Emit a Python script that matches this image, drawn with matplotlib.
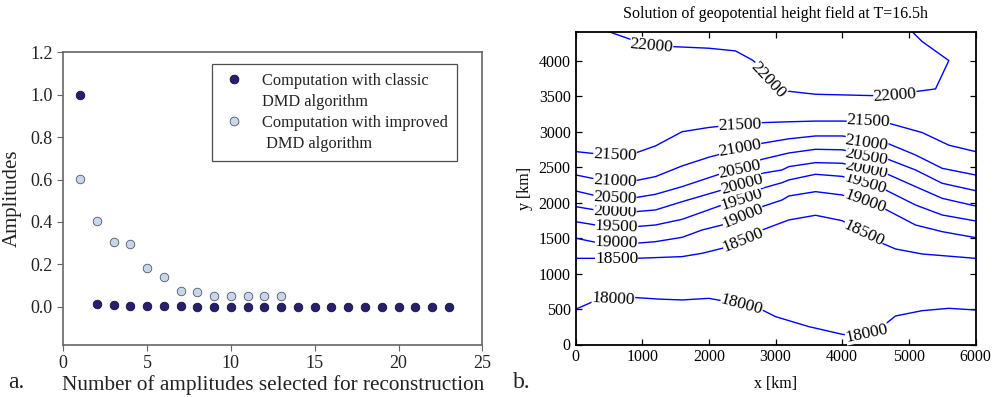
import matplotlib
matplotlib.use("Agg")
import matplotlib.pyplot as plt
from matplotlib.lines import Line2D
import numpy as np

plt.rcParams['font.family'] = ['Liberation Serif', 'DejaVu Serif']
plt.rcParams['mathtext.fontset'] = 'stix'

# ---------------- data: panel a ----------------
n_classic = list(range(1, 24))
amp_classic = [1.0, 0.011, 0.008, 0.006, 0.006, 0.006, 0.002, 0.001, 0.001, 0.001,
               0.001, 0.001, 0.001, 0.0, 0.0, 0.0, 0.0, 0.0, 0.0, 0.0, 0.0, 0.0, 0.0]
n_improved = list(range(1, 14))
amp_improved = [0.602, 0.404, 0.307, 0.294, 0.182, 0.142, 0.075, 0.069, 0.050, 0.050,
                0.050, 0.050, 0.050]

# ---------------- data: panel b (contour lines) ----------------
levels = [18000, 18500, 19000, 19500, 20000, 20500, 21000, 21500, 22000]
c18000_x = [0, 350, 850, 1250, 1600, 2000, 2300, 2800, 3000, 3500, 4000, 4100, 4600, 4800, 5200, 5600, 6000]
c18000_y = [496, 640, 665, 640, 628, 651, 600, 487, 393, 252, 144, 134, 252, 402, 477, 510, 487]
c18500_x = [0, 300, 900, 1200, 1600, 1900, 2200, 2800, 3200, 3600, 4000, 4600, 4800, 5200, 6000]
c18500_y = [1215, 1215, 1215, 1225, 1239, 1286, 1356, 1615, 1756, 1822, 1746, 1427, 1347, 1276, 1215]
c19000_x = [0, 300, 900, 1200, 1600, 1900, 2200, 2800, 3100, 3200, 3600, 4000, 4650, 5100, 5500, 6000]
c19000_y = [1500, 1441, 1427, 1450, 1511, 1615, 1685, 1944, 2038, 2094, 2155, 2108, 1906, 1685, 1591, 1507]
c19500_x = [0, 300, 900, 1200, 1600, 2200, 2800, 3100, 3200, 3600, 4000, 4650, 5100, 5500, 6000]
c19500_y = [1732, 1685, 1662, 1685, 1765, 1967, 2202, 2282, 2320, 2400, 2370, 2179, 1967, 1826, 1742]
c20000_x = [0, 300, 900, 1200, 1600, 2200, 2800, 3100, 3200, 3600, 4000, 4650, 5100, 5500, 6000]
c20000_y = [1944, 1897, 1873, 1897, 2014, 2179, 2414, 2461, 2508, 2564, 2555, 2414, 2226, 2061, 1953]
c20500_x = [0, 300, 900, 1200, 1600, 1900, 2200, 2800, 3200, 3600, 4000, 4650, 5100, 5500, 6000]
c20500_y = [2165, 2099, 2071, 2118, 2226, 2320, 2414, 2611, 2700, 2752, 2745, 2625, 2461, 2273, 2169]
c21000_x = [0, 300, 900, 1200, 1600, 2000, 2200, 2800, 3200, 3600, 4000, 4400, 4700, 5100, 5500, 6000]
c21000_y = [2391, 2334, 2310, 2367, 2518, 2640, 2690, 2837, 2900, 2940, 2940, 2890, 2828, 2672, 2484, 2390]
c21500_x = [0, 400, 900, 1200, 1600, 2000, 2400, 2800, 3200, 3600, 4000, 4400, 4700, 5200, 5600, 6000]
c21500_y = [2720, 2680, 2700, 2800, 3000, 3060, 3100, 3128, 3140, 3150, 3150, 3140, 3119, 2988, 2810, 2720]
c22000_x = [500, 850, 1450, 2000, 2400, 2650, 2800, 3000, 3150, 3600, 4450, 5100, 5400, 5600, 5200, 5050]
c22000_y = [4410, 4294, 4200, 4177, 4139, 4012, 3900, 3650, 3575, 3528, 3509, 3566, 3603, 4003, 4271, 4410]

# label positions (x, y, rotation) for each level
label_pos = {
    18000: [(568, 637, -3), (2493, 557, -15), (4368, 158, 12)],
    18500: [(617, 1206, 0), (2518, 1474, 22), (4318, 1568, -25)],
    19000: [(617, 1436, -2), (2508, 1812, 22), (4343, 2014, -20)],
    19500: [(617, 1662, -2), (2493, 2038, 18), (4343, 2263, -17)],
    20000: [(592, 1873, -2), (2493, 2249, 15), (4368, 2470, -12)],
    20500: [(592, 2061, -3), (2468, 2470, 12), (4368, 2649, -10)],
    21000: [(592, 2306, -3), (2468, 2766, 10), (4368, 2846, -8)],
    21500: [(592, 2672, -3), (2468, 3096, 2), (4393, 3143, -3)],
    22000: [(1143, 4215, -5), (2893, 3730, -47), (4793, 3509, 4)],
}

fig = plt.figure(figsize=(9.93, 3.97), dpi=100)

# ---------------- panel a ----------------
ax1 = fig.add_axes([63.3/993, 52/397, 419/993, 292.7/397])
ax1.scatter(n_classic, amp_classic, s=38, color='#28206e', edgecolors='#111133',
            linewidths=0.6, zorder=3)
ax1.scatter(n_improved, amp_improved, s=38, color='#c8d6ea', edgecolors='#555566',
            linewidths=0.6, zorder=3)
ax1.set_xlim(0, 25)
ax1.set_ylim(-0.18, 1.2)
ax1.set_xticks([0, 5, 10, 15, 20, 25])
ax1.set_yticks([0.0, 0.2, 0.4, 0.6, 0.8, 1.0, 1.2])
ax1.set_yticklabels(['0.0', '0.2', '0.4', '0.6', '0.8', '1.0', '1.2'])
for sp in ['top', 'right', 'bottom', 'left']:
    ax1.spines[sp].set_color('#666666')
    ax1.spines[sp].set_linewidth(1.2)
ax1.tick_params(direction='out', length=4, color='#666666', labelsize=13,
                labelcolor='#222222', top=False, right=False)
ax1.set_xlabel('Number of amplitudes selected for reconstruction', fontsize=15.3,
               labelpad=2, color='#222222')
ax1.set_ylabel('Amplitudes', fontsize=15, labelpad=6, color='#222222')

h1 = Line2D([], [], linestyle='none', marker='o', markersize=6.3,
            markerfacecolor='#28206e', markeredgecolor='#111133', markeredgewidth=0.6)
h2 = Line2D([], [], linestyle='none', marker='o', markersize=6.3,
            markerfacecolor='#c8d6ea', markeredgecolor='#555566', markeredgewidth=0.6)
he = Line2D([], [], linestyle='none')
leg = ax1.legend([h1, he, h2, he],
                 ['Computation with classic', 'DMD algorithm',
                  'Computation with improved', ' DMD algorithm'],
                 loc='upper left', bbox_to_anchor=(0.355, 0.96), frameon=True,
                 fancybox=False, edgecolor='#222222', fontsize=11.8,
                 handletextpad=0.9, labelspacing=0.3, borderpad=0.55,
                 handlelength=1.6, borderaxespad=0)
leg.get_frame().set_linewidth(0.9)
for t in leg.get_texts():
    t.set_color('#222222')

# ---------------- panel b ----------------
ax2 = fig.add_axes([575.5/993, 52.5/397, 400/993, 312.8/397])
lines = {
    18000: (c18000_x, c18000_y), 18500: (c18500_x, c18500_y),
    19000: (c19000_x, c19000_y), 19500: (c19500_x, c19500_y),
    20000: (c20000_x, c20000_y), 20500: (c20500_x, c20500_y),
    21000: (c21000_x, c21000_y), 21500: (c21500_x, c21500_y),
    22000: (c22000_x, c22000_y),
}
for lev in levels:
    xs, ys = lines[lev]
    ax2.plot(xs, ys, color='#0000ff', lw=1.0, zorder=2)
    for (lx, ly, rot) in label_pos[lev]:
        ax2.text(lx, ly, str(lev), fontsize=12.5, rotation=rot, ha='center',
                 va='center', rotation_mode='anchor', color='black', zorder=4,
                 bbox=dict(boxstyle='square,pad=0.0', facecolor='white',
                           edgecolor='none'))
ax2.set_xlim(0, 6000)
ax2.set_ylim(0, 4410)
ax2.set_xticks(np.arange(0, 6001, 1000))
ax2.set_yticks(np.arange(0, 4001, 500))
ax2.tick_params(direction='in', length=4, width=0.9, top=True, right=True,
                labelsize=11.5)
for sp in ax2.spines.values():
    sp.set_linewidth(1.3)
ax2.set_xlabel('x [km]', fontsize=11.5, labelpad=8)
ax2.set_ylabel('y [km]', fontsize=11.5, labelpad=4)
ax2.set_title('Solution of geopotential height field at T=16.5h', fontsize=11.5, pad=10)

fig.text(8/993, 1 - 383/397, 'a.', fontsize=17, va='center', ha='left', color='#222222')
fig.text(513/993, 1 - 383/397, 'b.', fontsize=17, va='center', ha='left', color='#222222')

fig.savefig('out.png', dpi=100)
